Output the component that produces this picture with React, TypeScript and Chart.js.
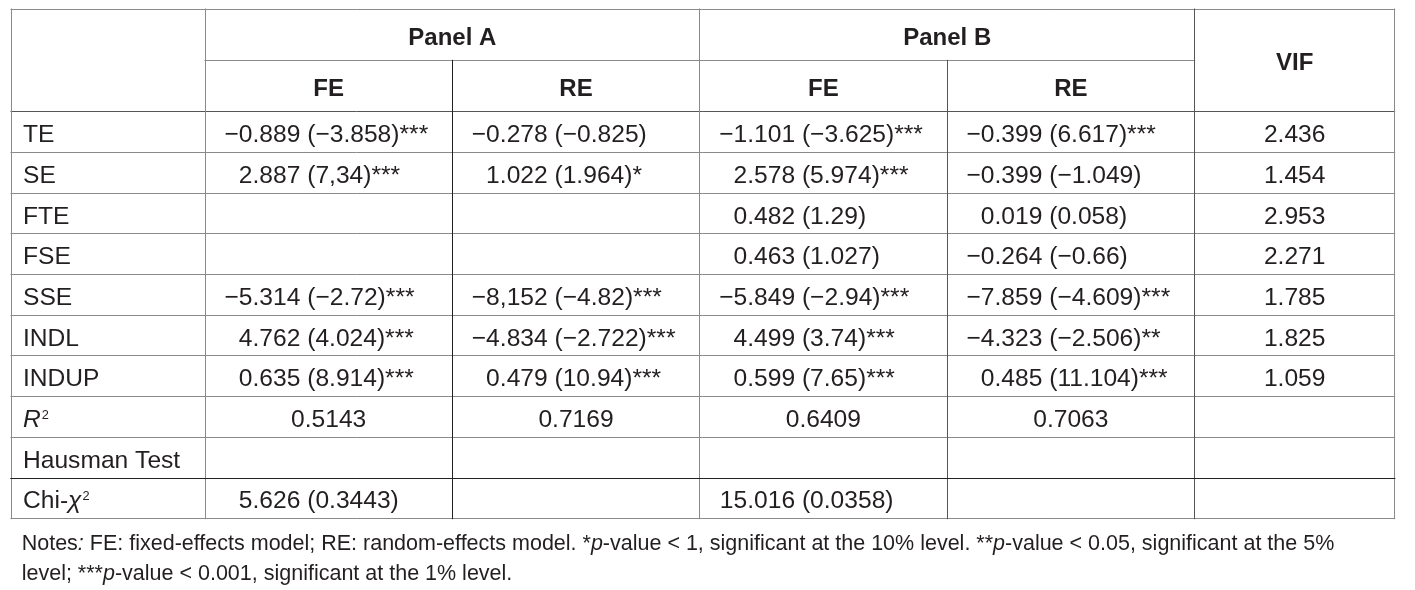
import React, { useEffect, useRef } from "react";
import { Chart, registerables } from "chart.js";

Chart.register(...registerables);

// ---------------- data ----------------
const panelTitles = ["Panel A", "Panel B"];
const modelTitles = ["FE", "RE", "FE", "RE"];
const vifTitle = "VIF";
// "_x_" = italic, "^x" = superscript
const rowLabels = ["TE", "SE", "FTE", "FSE", "SSE", "INDL", "INDUP", "_R_^2", "Hausman Test", "Chi-_χ_^2"];
const panelAFE = ["−0.889 (−3.858)***", "2.887 (7,34)***", "", "", "−5.314 (−2.72)***", "4.762 (4.024)***", "0.635 (8.914)***", "0.5143", "", "5.626 (0.3443)"];
const panelARE = ["−0.278 (−0.825)", "1.022 (1.964)*", "", "", "−8,152 (−4.82)***", "−4.834 (−2.722)***", "0.479 (10.94)***", "0.7169", "", ""];
const panelBFE = ["−1.101 (−3.625)***", "2.578 (5.974)***", "0.482 (1.29)", "0.463 (1.027)", "−5.849 (−2.94)***", "4.499 (3.74)***", "0.599 (7.65)***", "0.6409", "", "15.016 (0.0358)"];
const panelBRE = ["−0.399 (6.617)***", "−0.399 (−1.049)", "0.019 (0.058)", "−0.264 (−0.66)", "−7.859 (−4.609)***", "−4.323 (−2.506)**", "0.485 (11.104)***", "0.7063", "", ""];
const vifValues = ["2.436", "1.454", "2.953", "2.271", "1.785", "1.825", "1.059", "", "", ""];
const centredRowLabels = ["_R_^2"];
const noteLines = [
  "Notes_:_ FE: fixed-effects model; RE: random-effects model. *_p_-value < 1, significant at the 10% level. **_p_-value < 0.05, significant at the 5%",
  "level; ***_p_-value < 0.001, significant at the 1% level.",
];

// ---------------- layout / style ----------------
const FONT = '"Liberation Sans", Arial, Helvetica, sans-serif';
const FS = 24.6;
const HEAD_FS = 24;
const NOTE_FS = 21.5;
const TEXT = "#231f20";
const GRID = "#8a8a8a";
const DARK = "#222222";
const MID = "#555555";
const COLUMN_WIDTHS = [194, 247.3, 247.4, 247.3, 247.7, 200];
const HEADER_HEIGHTS = [51.3, 51.4];
const ROW_HEIGHT = 40.66;
const LABEL_PAD = 12;
const DECIMAL_OFFSET = 47.5;

type Seg = { text: string; italic: boolean; sup: boolean };
function parseRich(s: string): Seg[] {
  const segs: Seg[] = [];
  let italic = false;
  let sup = false;
  let buf = "";
  const flush = () => {
    if (buf) segs.push({ text: buf, italic, sup });
    buf = "";
  };
  for (const ch of s) {
    if (ch === "_") {
      flush();
      italic = !italic;
    } else if (ch === "^") {
      flush();
      sup = true;
    } else buf += ch;
  }
  flush();
  return segs;
}

function fontFor(size: number, bold: boolean, italic: boolean) {
  return `${italic ? "italic " : ""}${bold ? "bold " : ""}${size}px ${FONT}`;
}

function richWidth(ctx: CanvasRenderingContext2D, s: string, size: number, bold: boolean) {
  let w = 0;
  for (const seg of parseRich(s)) {
    ctx.font = fontFor(seg.sup ? size * 0.52 : size, bold, seg.italic);
    w += ctx.measureText(seg.text).width + (seg.sup ? 1 : 0);
  }
  return w;
}

function drawRich(ctx: CanvasRenderingContext2D, s: string, x: number, baseline: number, size: number, bold: boolean) {
  let cx = x;
  for (const seg of parseRich(s)) {
    const sz = seg.sup ? size * 0.52 : size;
    ctx.font = fontFor(sz, bold, seg.italic);
    const y = seg.sup ? baseline - size * 0.716 + sz * 0.716 : baseline;
    if (seg.sup) cx += 1;
    ctx.fillText(seg.text, cx, y);
    cx += ctx.measureText(seg.text).width;
  }
}

const totalW = COLUMN_WIDTHS.reduce((a, b) => a + b, 0);
const totalH = HEADER_HEIGHTS[0] + HEADER_HEIGHTS[1] + ROW_HEIGHT * rowLabels.length;

const tablePlugin = {
  id: "tableDraw",
  afterDraw(chart: any) {
    const ctx: CanvasRenderingContext2D = chart.ctx;
    const xs = chart.scales.x;
    const ys = chart.scales.y;
    const X = (v: number) => xs.getPixelForValue(v);
    const Y = (v: number) => ys.getPixelForValue(v);
    const crisp = (p: number) => Math.round(p - 0.5) + 0.5;

    const colEdges: number[] = [0];
    COLUMN_WIDTHS.forEach((w) => colEdges.push(colEdges[colEdges.length - 1] + w));
    const rowEdges: number[] = [0, HEADER_HEIGHTS[0], HEADER_HEIGHTS[0] + HEADER_HEIGHTS[1]];
    rowLabels.forEach(() => rowEdges.push(rowEdges[rowEdges.length - 1] + ROW_HEIGHT));

    ctx.save();
    ctx.lineWidth = 1;
    const hline = (v: number, x0: number, x1: number, color: string) => {
      ctx.strokeStyle = color;
      ctx.beginPath();
      const y = crisp(Y(v));
      ctx.moveTo(X(x0) - 0.5, y);
      ctx.lineTo(X(x1) + 0.5, y);
      ctx.stroke();
    };
    const vline = (v: number, y0: number, y1: number, color: string) => {
      ctx.strokeStyle = color;
      ctx.beginPath();
      const x = crisp(X(v));
      ctx.moveTo(x, Y(y0) - 0.5);
      ctx.lineTo(x, Y(y1) + 0.5);
      ctx.stroke();
    };

    // horizontal rules
    rowEdges.forEach((r, i) => {
      if (i === 1) {
        hline(r, colEdges[1], colEdges[5], GRID);
      } else {
        const color = i === rowEdges.length - 2 ? DARK : i === 2 ? MID : GRID;
        hline(r, colEdges[0], colEdges[6], color);
      }
    });
    // vertical rules
    vline(colEdges[0], 0, totalH, GRID);
    vline(colEdges[1], 0, totalH, GRID);
    vline(colEdges[2], rowEdges[1], totalH, DARK);
    vline(colEdges[3], 0, totalH, GRID);
    vline(colEdges[4], rowEdges[1], totalH, MID);
    vline(colEdges[5], 0, totalH, MID);
    vline(colEdges[6], 0, totalH, GRID);
    hline(rowEdges[rowEdges.length - 2], colEdges[0], colEdges[6], DARK);

    ctx.fillStyle = TEXT;
    ctx.textBaseline = "alphabetic";
    ctx.textAlign = "left";
    const baseOff = (size: number) => 1.3 + 0.358 * size;
    const centreText = (s: string, c0: number, c1: number, r0: number, r1: number, bold: boolean, size: number) => {
      const w = richWidth(ctx, s, size, bold);
      const cx = (X(colEdges[c0]) + X(colEdges[c1])) / 2;
      const cy = (Y(r0) + Y(r1)) / 2;
      drawRich(ctx, s, cx - w / 2, cy + baseOff(size), size, bold);
    };

    // headers
    panelTitles.forEach((t, i) => centreText(t, 1 + i * 2, 3 + i * 2, rowEdges[0], rowEdges[1], true, HEAD_FS));
    modelTitles.forEach((t, i) => centreText(t, 1 + i, 2 + i, rowEdges[1], rowEdges[2], true, HEAD_FS));
    centreText(vifTitle, 5, 6, rowEdges[0], rowEdges[2], true, HEAD_FS);

    // body
    const valueCols = [panelAFE, panelARE, panelBFE, panelBRE];
    rowLabels.forEach((label, r) => {
      const r0 = rowEdges[r + 2];
      const r1 = rowEdges[r + 3];
      const baseline = (Y(r0) + Y(r1)) / 2 + baseOff(FS);
      drawRich(ctx, label, X(colEdges[0]) + LABEL_PAD, baseline, FS, false);
      const centred = centredRowLabels.includes(label);
      valueCols.forEach((col, c) => {
        const s = col[r];
        if (!s) return;
        if (centred) {
          centreText(s, c + 1, c + 2, r0, r1, false, FS);
        } else {
          let k = s.search(/[.,]/);
          if (k < 0) k = s.length;
          ctx.font = fontFor(FS, false, false);
          const pre = ctx.measureText(s.slice(0, k)).width;
          drawRich(ctx, s, X(colEdges[c + 1]) + DECIMAL_OFFSET - pre, baseline, FS, false);
        }
      });
      if (vifValues[r]) centreText(vifValues[r], 5, 6, r0, r1, false, FS);
    });

    // notes
    const area = chart.chartArea;
    noteLines.forEach((line, i) => {
      drawRich(ctx, line, area.left + 10.7, area.bottom + 30.8 + i * 30.5, NOTE_FS, false);
    });
    ctx.restore();
  },
};

export default function App() {
  const ref = useRef<HTMLCanvasElement | null>(null);
  useEffect(() => {
    document.body.style.margin = "0";
    if (!ref.current) return;
    const chart = new Chart(ref.current, {
      type: "scatter",
      data: { datasets: [] },
      options: {
        animation: false,
        responsive: false,
        events: [],
        layout: { padding: { left: 11, top: 9, right: 20.3, bottom: 71.3 } },
        plugins: { legend: { display: false }, tooltip: { enabled: false } },
        scales: {
          x: { type: "linear", display: false, min: 0, max: totalW },
          y: { type: "linear", display: false, min: 0, max: totalH, reverse: true },
        },
      },
      plugins: [tablePlugin],
    } as any);
    return () => chart.destroy();
  }, []);
  return (
    <div style={{ width: 1415, height: 590, overflow: "hidden" }}>
      <canvas ref={ref} width={1415} height={590} style={{ display: "block", width: 1415, height: 590 }} />
    </div>
  );
}
